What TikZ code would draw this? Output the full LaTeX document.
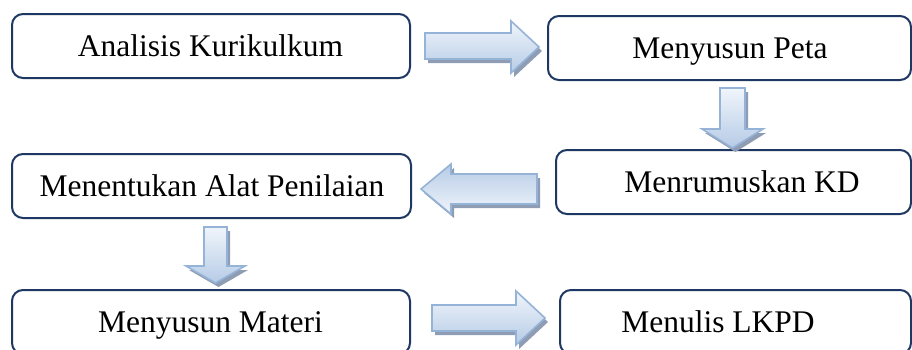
\documentclass[tikz,border=0pt]{standalone}
\usepackage{fontspec}
\setmainfont{Liberation Serif}
\definecolor{boxline}{RGB}{31,56,99}
\definecolor{arrline}{RGB}{149,179,215}
\definecolor{arrlight}{RGB}{240,245,251}
\definecolor{arrdark}{RGB}{182,203,230}
\definecolor{arrshade}{RGB}{142,157,180}
\tikzset{
  flowbox/.style={draw=boxline, line width=2pt, rounded corners=11pt, fill=white,
    inner sep=0pt, minimum height=64pt},
  flowtext/.style={anchor=base, inner sep=0pt, font=\fontsize{31.5}{36}\selectfont},
  arrbody/.style={draw=arrline, line width=1.6pt, line join=miter},
  arrshadow/.style={fill=arrshade},
}
\newcommand\blockarrow[2]{%
  \fill[arrshadow, shift={(3,4)}] #2;
  \draw[arrbody, #1] #2;}
\begin{document}
\begin{tikzpicture}[x=1pt, y=-1pt]
\useasboundingbox (0,0) rectangle (912,349);
\clip (0,0) rectangle (912,349);
% boxes
\node[flowbox, minimum width=398pt] (b1) at (211,46) {};
\node[flowbox, minimum width=363pt] (b2) at (729.5,48) {};
\node[flowbox, minimum width=355pt] (b3) at (733.5,182) {};
\node[flowbox, minimum width=399pt] (b4) at (211.5,186) {};
\node[flowbox, minimum width=398pt] (b5) at (211,322) {};
\node[flowbox, minimum width=351pt] (b6) at (735.5,322) {};
% texts
\node[flowtext] (t1) at (210.5,56.6) {Analisis Kurikulkum};
\node[flowtext] (t2) at (730,58.6) {Menyusun Peta};
\node[flowtext] (t3) at (742,192.6) {Menrumuskan KD};
\node[flowtext] (t4) at (212,196.6) {Menentukan Alat Penilaian};
\node[flowtext] (t5) at (210.5,332.6) {Menyusun Materi};
\node[flowtext] (t6) at (718,332.6) {Menulis LKPD};
% block arrows
\blockarrow{top color=arrlight, bottom color=arrdark}
  {(425,33) -- (511,33) -- (511,21) -- (539,47) -- (511,73) -- (511,59) -- (425,59) -- cycle}
\blockarrow{top color=arrlight, bottom color=arrdark}
  {(720,88) -- (745,88) -- (745,129) -- (763,129) -- (732.5,148) -- (702,129) -- (720,129) -- cycle}
\blockarrow{top color=arrdark, bottom color=arrlight}
  {(537,174) -- (451,174) -- (451,164) -- (421,189) -- (451,214) -- (451,204) -- (537,204) -- cycle}
\blockarrow{top color=arrlight, bottom color=arrdark}
  {(204,227) -- (227,227) -- (227,266) -- (245,266) -- (215.5,283) -- (186,266) -- (204,266) -- cycle}
\blockarrow{top color=arrlight, bottom color=arrdark}
  {(432,305) -- (516,305) -- (516,291) -- (545,318) -- (516,345) -- (516,331) -- (432,331) -- cycle}
\end{tikzpicture}
\end{document}
